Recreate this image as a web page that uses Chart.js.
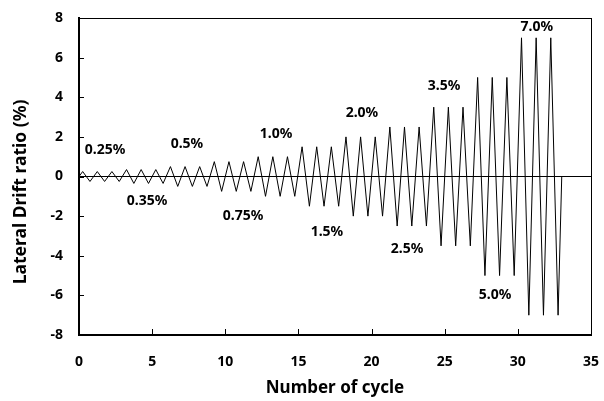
<!DOCTYPE html>
<html>
<head>
<meta charset="utf-8">
<script src="https://cdn.jsdelivr.net/npm/chart.js@4.4.1/dist/chart.umd.min.js"></script>
<style>
  html, body { margin: 0; padding: 0; background: #fff; overflow: hidden; }
  #wrap { width: 604px; height: 401px; position: relative; }
</style>
</head>
<body>
<div id="wrap"><canvas id="drift-chart"></canvas></div>
<script>
// loading protocol: peak / trough of each cycle
let cycle = [0,
  0.25, 0.75, 1.25, 1.75, 2.25, 2.75,
  3.25, 3.75, 4.25, 4.75, 5.25, 5.75,
  6.25, 6.75, 7.25, 7.75, 8.25, 8.75,
  9.25, 9.75, 10.25, 10.75, 11.25, 11.75,
  12.25, 12.75, 13.25, 13.75, 14.25, 14.75,
  15.25, 15.75, 16.25, 16.75, 17.25, 17.75,
  18.25, 18.75, 19.25, 19.75, 20.25, 20.75,
  21.25, 21.75, 22.25, 22.75, 23.25, 23.75,
  24.25, 24.75, 25.25, 25.75, 26.25, 26.75,
  27.25, 27.75, 28.25, 28.75, 29.25, 29.75,
  30.25, 30.75, 31.25, 31.75, 32.25, 32.75,
  33];

let drift = [0,
  0.25, -0.25, 0.25, -0.25, 0.25, -0.25,
  0.35, -0.35, 0.35, -0.35, 0.35, -0.35,
  0.5, -0.5, 0.5, -0.5, 0.5, -0.5,
  0.75, -0.75, 0.75, -0.75, 0.75, -0.75,
  1.0, -1.0, 1.0, -1.0, 1.0, -1.0,
  1.5, -1.5, 1.5, -1.5, 1.5, -1.5,
  2.0, -2.0, 2.0, -2.0, 2.0, -2.0,
  2.5, -2.5, 2.5, -2.5, 2.5, -2.5,
  3.5, -3.5, 3.5, -3.5, 3.5, -3.5,
  5.0, -5.0, 5.0, -5.0, 5.0, -5.0,
  7.0, -7.0, 7.0, -7.0, 7.0, -7.0,
  0];

// drift level labels (text, x, y in data units)
let levelText = ["0.25%", "0.35%", "0.5%", "0.75%", "1.0%", "1.5%", "2.0%", "2.5%", "3.5%", "5.0%", "7.0%"];
let levelX = [1.78, 4.65, 7.38, 11.21, 13.47, 16.95, 19.34, 22.42, 24.95, 28.44, 31.3];
let levelY = [1.36, -1.26, 1.62, -1.97, 2.12, -2.78, 3.18, -3.64, 4.55, -5.96, 7.57];

let yTitle = 'Lateral Drift ratio (%)';
let xTitle = 'Number of cycle';

let fontFamily = "'Noto Sans', 'Open Sans', sans-serif";

let points = cycle.map((c, i) => ({x: c, y: drift[i]}));

// box border, inside ticks, level labels and rotated y title
let labelPlugin = {
  id: 'levelLabels',
  afterDraw: (chart) => {
    let ctx = chart.ctx;
    let area = chart.chartArea;
    let xs = chart.scales.x;
    let ys = chart.scales.y;
    ctx.save();
    ctx.fillStyle = '#000';

    let l = Math.round(area.left), r = Math.round(area.right);
    let t = Math.round(area.top), b = Math.round(area.bottom);
    ctx.fillRect(l, t, r - l + 1, 1);
    ctx.fillRect(r, t, 1, b - t);
    xs.ticks.forEach(tk => {
      ctx.fillRect(Math.round(xs.getPixelForValue(tk.value)), b - 6, 1, 6);
    });
    ys.ticks.forEach(tk => {
      ctx.fillRect(l, Math.round(ys.getPixelForValue(tk.value)), 5, 1);
    });

    ctx.font = "bold 14px " + fontFamily;
    ctx.textAlign = 'center';
    ctx.textBaseline = 'middle';
    for (let i = 0; i < levelText.length; i++) {
      ctx.fillText(levelText[i], xs.getPixelForValue(levelX[i]), ys.getPixelForValue(levelY[i]));
    }

    ctx.translate(21, 192);
    ctx.rotate(-Math.PI / 2);
    ctx.font = "bold 17.5px " + fontFamily;
    ctx.fillText(yTitle, 0, 0);
    ctx.restore();
  }
};

let driftCfg = {
  type: 'line',
  data: {
    datasets: [{
      label: "Lateral Drift ratio",
      data: points,
      borderColor: '#000',
      backgroundColor: '#000',
      borderWidth: 1,
      pointStyle: false,
      tension: 0
    }]
  },
  options: {
    responsive: true,
    maintainAspectRatio: false,
    animation: false,
    layout: {
      padding: {top: 18, right: 13, left: 0, bottom: 0}
    },
    plugins: {
      legend: {display: false},
      tooltip: {enabled: false}
    },
    scales: {
      x: {
        type: 'linear',
        min: 0,
        max: 35,
        afterFit: (s) => { s.height = 66; s.paddingLeft = 0; s.paddingRight = 0; },
        ticks: {
          stepSize: 5,
          color: '#000',
          padding: 19,
          maxRotation: 0,
          font: {family: fontFamily, size: 14, weight: 'bold'}
        },
        grid: {display: false, drawTicks: false},
        border: {display: true, color: '#000', width: 2},
        title: {
          display: true,
          text: xTitle,
          color: '#000',
          padding: {top: 0, bottom: 3},
          font: {family: fontFamily, size: 17, weight: 'bold'}
        }
      },
      y: {
        min: -8,
        max: 8,
        afterFit: (s) => { s.width = 79; s.paddingTop = 0; s.paddingBottom = 0; },
        ticks: {
          stepSize: 2,
          color: '#000',
          padding: 16,
          font: {family: fontFamily, size: 14, weight: 'bold'}
        },
        grid: {
          drawTicks: false,
          lineWidth: 1,
          color: (c) => (c.tick && c.tick.value === 0) ? '#000' : 'rgba(0,0,0,0)'
        },
        border: {display: true, color: '#000', width: 2},
        title: {display: false}
      }
    }
  },
  plugins: [labelPlugin]
};

let driftChart = new Chart(document.getElementById("drift-chart"), driftCfg);
</script>
</body>
</html>
